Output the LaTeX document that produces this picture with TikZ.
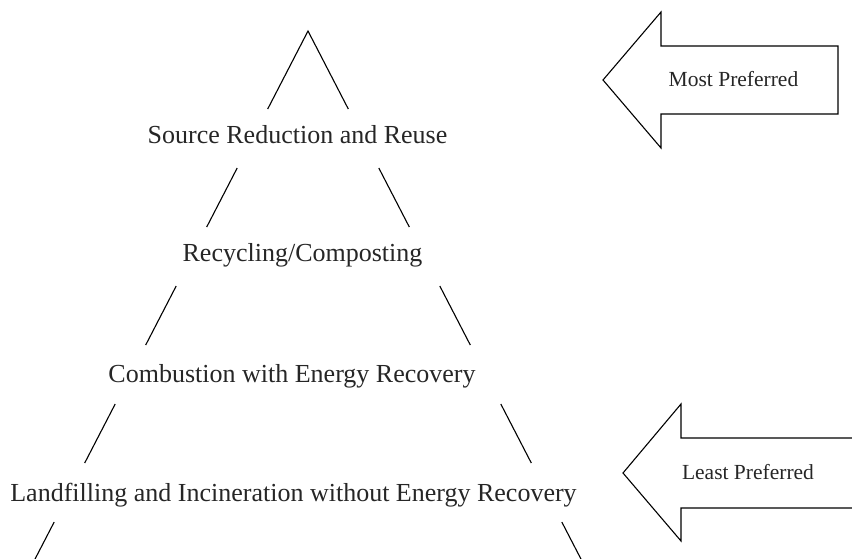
\documentclass[tikz,border=0pt]{standalone}
\usepackage{fontspec}
\setmainfont{Liberation Serif}
\begin{document}
\begin{tikzpicture}[x=1pt,y=-1pt,
  seg/.style={draw=black,line width=1.1pt},
  arrowshape/.style={draw=black,line width=1.1pt,line join=miter},
  level/.style={anchor=base,inner sep=0pt,font=\fontsize{26}{30}\selectfont,text=black!85},
  pref/.style={anchor=base,inner sep=0pt,font=\fontsize{21.5}{25}\selectfont,text=black!85}]
\useasboundingbox (0,0) rectangle (852,559);
% triangle side points
\coordinate (apex) at (308,31);
\coordinate (l1b) at (267.7,109); \coordinate (r1b) at (348.3,109);
\coordinate (l2a) at (237.2,168); \coordinate (r2a) at (378.8,168);
\coordinate (l2b) at (206.7,227); \coordinate (r2b) at (409.3,227);
\coordinate (l3a) at (176.2,286); \coordinate (r3a) at (439.8,286);
\coordinate (l3b) at (145.7,345); \coordinate (r3b) at (470.3,345);
\coordinate (l4a) at (115.2,404); \coordinate (r4a) at (500.8,404);
\coordinate (l4b) at (84.7,463);  \coordinate (r4b) at (531.3,463);
\coordinate (l5a) at (54.2,522);  \coordinate (r5a) at (561.8,522);
\coordinate (l5b) at (33.5,562);  \coordinate (r5b) at (582.5,562);
\draw[seg] (l1b) -- (apex) -- (r1b);
\draw[seg] (l2a) -- (l2b); \draw[seg] (r2a) -- (r2b);
\draw[seg] (l3a) -- (l3b); \draw[seg] (r3a) -- (r3b);
\draw[seg] (l4a) -- (l4b); \draw[seg] (r4a) -- (r4b);
\draw[seg] (l5a) -- (l5b); \draw[seg] (r5a) -- (r5b);
% level labels
\node[level] (src) at (297.5,144) {Source Reduction and Reuse};
\node[level] (rec) at (302.5,261) {Recycling/Composting};
\node[level] (comb) at (292,382) {Combustion with Energy Recovery};
\node[level] (land) at (293.5,501) {Landfilling and Incineration without Energy Recovery};
% most preferred arrow
\coordinate (mtip) at (603,80);
\coordinate (mht) at (661,12); \coordinate (mhb) at (661,148);
\coordinate (mst) at (661,46); \coordinate (msb) at (661,114);
\coordinate (mrt) at (838,46); \coordinate (mrb) at (838,114);
\draw[arrowshape] (mtip) -- (mht) -- (mst) -- (mrt) -- (mrb) -- (msb) -- (mhb) -- cycle;
\node[pref] (most) at (733.5,87) {Most Preferred};
% least preferred arrow
\coordinate (ltip) at (623,473);
\coordinate (lht) at (681,404); \coordinate (lhb) at (681,541);
\coordinate (lst) at (681,438); \coordinate (lsb) at (681,508);
\coordinate (lrt) at (853,438); \coordinate (lrb) at (853,508);
\draw[arrowshape] (lrt) -- (lst) -- (lht) -- (ltip) -- (lhb) -- (lsb) -- (lrb);
\node[pref] (least) at (748,479) {Least Preferred};
\end{tikzpicture}
\end{document}
